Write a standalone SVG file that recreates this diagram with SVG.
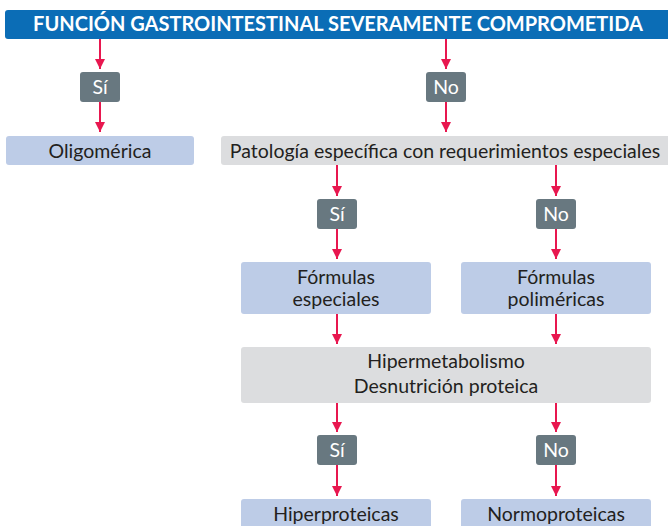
<svg xmlns="http://www.w3.org/2000/svg" width="668" height="526" viewBox="0 0 668 526">
<defs>
<marker id="ah" viewBox="0 0 10 10" refX="10" refY="5" markerWidth="5" markerHeight="5" markerUnits="strokeWidth" orient="auto">
<path d="M0,0 L10,5 L0,10 Z" fill="#e8174f"/>
</marker>
</defs>
<style>
.t{font-family:Lato,"Open Sans","Liberation Sans",sans-serif;font-size:19.5px;fill:#231f20;text-anchor:middle}
.w{fill:#ffffff}
.title{font-family:Lato,"Open Sans","Liberation Sans",sans-serif;font-size:20px;font-weight:bold;fill:#ffffff;text-anchor:middle}
.blue{fill:#bdcce7}
.gray{fill:#dcdddf}
.dec{fill:#687880}
.c{stroke:#e8174f;stroke-width:2;fill:none;marker-end:url(#ah)}
</style>
<g id="title"><rect x="5" y="10" width="668" height="29" rx="3" fill="#0b6db6"/><text class="title" x="338" y="31">FUNCIÓN GASTROINTESTINAL SEVERAMENTE COMPROMETIDA</text></g>
<g id="si1"><rect class="dec" x="80" y="72" width="40" height="30" rx="3"/><text class="t w" x="100" y="94">Sí</text></g>
<g id="no1"><rect class="dec" x="426" y="72" width="40" height="30" rx="3"/><text class="t w" x="446" y="94">No</text></g>
<g id="oligo"><rect class="blue" x="6" y="136" width="188" height="29" rx="3"/><text class="t" x="100" y="158">Oligomérica</text></g>
<g id="patologia"><rect class="gray" x="221" y="136" width="460" height="29" rx="3"/><text class="t" x="445" y="158">Patología específica con requerimientos especiales</text></g>
<g id="si2"><rect class="dec" x="317" y="199" width="40" height="30" rx="3"/><text class="t w" x="337" y="221">Sí</text></g>
<g id="no2"><rect class="dec" x="536" y="199" width="40" height="30" rx="3"/><text class="t w" x="556" y="221">No</text></g>
<g id="especiales"><rect class="blue" x="241" y="262" width="190" height="52" rx="3"/><text class="t" x="336" y="284">Fórmulas</text><text class="t" x="336" y="306">especiales</text></g>
<g id="polimericas"><rect class="blue" x="461" y="262" width="190" height="52" rx="3"/><text class="t" x="556" y="284">Fórmulas</text><text class="t" x="556" y="306">poliméricas</text></g>
<g id="hiper"><rect class="gray" x="241" y="347" width="410" height="56" rx="3"/><text class="t" x="446" y="368">Hipermetabolismo</text><text class="t" x="446" y="393">Desnutrición proteica</text></g>
<g id="si3"><rect class="dec" x="317" y="435" width="40" height="30" rx="3"/><text class="t w" x="337" y="457">Sí</text></g>
<g id="no3"><rect class="dec" x="536" y="435" width="40" height="30" rx="3"/><text class="t w" x="556" y="457">No</text></g>
<g id="hiperproteicas"><rect class="blue" x="241" y="499" width="190" height="40" rx="3"/><text class="t" x="336" y="521">Hiperproteicas</text></g>
<g id="normoproteicas"><rect class="blue" x="461" y="499" width="190" height="40" rx="3"/><text class="t" x="556" y="521">Normoproteicas</text></g>
<g id="connectors">
<line class="c" x1="100" y1="39" x2="100" y2="69"/>
<line class="c" x1="100" y1="102" x2="100" y2="132"/>
<line class="c" x1="446" y1="39" x2="446" y2="69"/>
<line class="c" x1="446" y1="102" x2="446" y2="132"/>
<line class="c" x1="337" y1="165" x2="337" y2="196"/>
<line class="c" x1="337" y1="229" x2="337" y2="259"/>
<line class="c" x1="556" y1="165" x2="556" y2="196"/>
<line class="c" x1="556" y1="229" x2="556" y2="259"/>
<line class="c" x1="337" y1="314" x2="337" y2="344"/>
<line class="c" x1="556" y1="314" x2="556" y2="344"/>
<line class="c" x1="337" y1="403" x2="337" y2="432"/>
<line class="c" x1="337" y1="465" x2="337" y2="496"/>
<line class="c" x1="556" y1="403" x2="556" y2="432"/>
<line class="c" x1="556" y1="465" x2="556" y2="496"/>
</g>
</svg>
